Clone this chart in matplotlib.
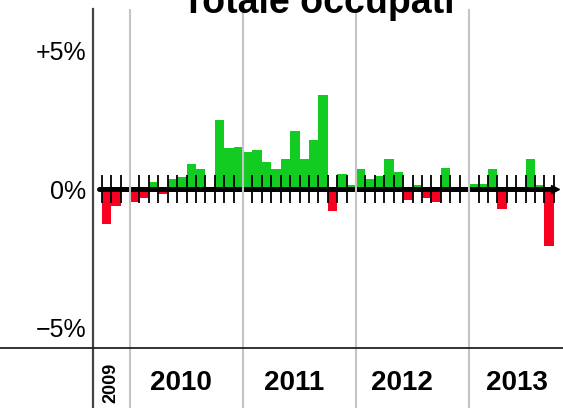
import numpy as np
import matplotlib
matplotlib.use('Agg')
import matplotlib.pyplot as plt
from matplotlib.lines import Line2D

plt.rcParams['font.family'] = ['Liberation Sans', 'DejaVu Sans']

title = 'Totale occupati'
# monthly change in %, Oct 2009 .. Sep 2013 (month 0 = Jan 2010)
first_month = -3
values = [-1.25, -0.62, 0.0,
          -0.46, -0.34, 0.26, -0.17, 0.37, 0.43, 0.92, 0.71, 0.0, 2.49, 1.47, 1.54,
          1.33, 1.43, 0.98, 0.71, 1.10, 2.11, 1.10, 1.78, 3.40, -0.78, 0.53, 0.14,
          0.71, 0.37, 0.48, 1.09, 0.60, -0.40, 0.15, -0.33, -0.46, 0.77, 0.0, 0.0,
          0.20, 0.19, 0.72, -0.71, 0.0, 0.0, 1.10, 0.14, -2.08]
years = ['2009', '2010', '2011', '2012', '2013']
year_pos = [-2.0, 5.4, 17.4, 28.9, 41.05]
yticks = [5, 0, -5]
ytick_labels = ['+5%', '0%', '\u22125%']

GREEN = '#12cc22'
RED = '#f70022'

W, H = 563, 408
fig = plt.figure(figsize=(W / 100, H / 100), dpi=100)
ax = fig.add_axes([93 / W, 0, 1 - 93 / W, 1 - 9 / H])
ax.set_xlim(-3.93, 45.97)
ax.set_ylim(-7.93, 6.52)

vals = np.array(values)
x = np.arange(len(vals)) + first_month + 0.5
colors = [GREEN if v >= 0 else RED for v in vals]
ax.bar(x, vals, width=1.0, color=colors, zorder=2)

# zero axis with month ticks
ax.plot([-3.3, 45.0], [0, 0], color='k', lw=3.6, solid_capstyle='round', zorder=3)
ax.plot([45.15], [0], marker='>', color='k', ms=6, zorder=3)
bounds = [b for b in range(first_month, first_month + len(vals) + 1) if b % 12 != 0]
ax.vlines(bounds, -0.52, 0.52, color='k', lw=1.3, zorder=4)

# year separators
for yb in range(0, 48, 12):
    ax.axvline(yb, color='#c4c4c4', lw=1.5, zorder=5)

for s in ['top', 'right', 'bottom']:
    ax.spines[s].set_visible(False)
ax.spines['left'].set_color('#444444')
ax.spines['left'].set_linewidth(1.6)
ax.set_xticks([])
ax.set_yticks(yticks, ytick_labels, fontsize=18)
ax.tick_params(axis='y', length=0, pad=5)

fig.add_artist(Line2D([0, 1], [1 - 348 / H] * 2, color='#222222', lw=1.3))

for yr, px in zip(years, year_pos):
    if yr == '2009':
        ax.text(px, -7.03, yr, rotation=90, ha='center', va='center',
                fontsize=13, fontweight='bold')
    else:
        ax.text(px, -7.03, yr, ha='center', va='center',
                fontsize=20, fontweight='bold')

fig.text(318 / W, 1 - 13 / H, title, ha='center', va='baseline',
         fontsize=27, fontweight='bold')

fig.savefig('out.png', dpi=100)
